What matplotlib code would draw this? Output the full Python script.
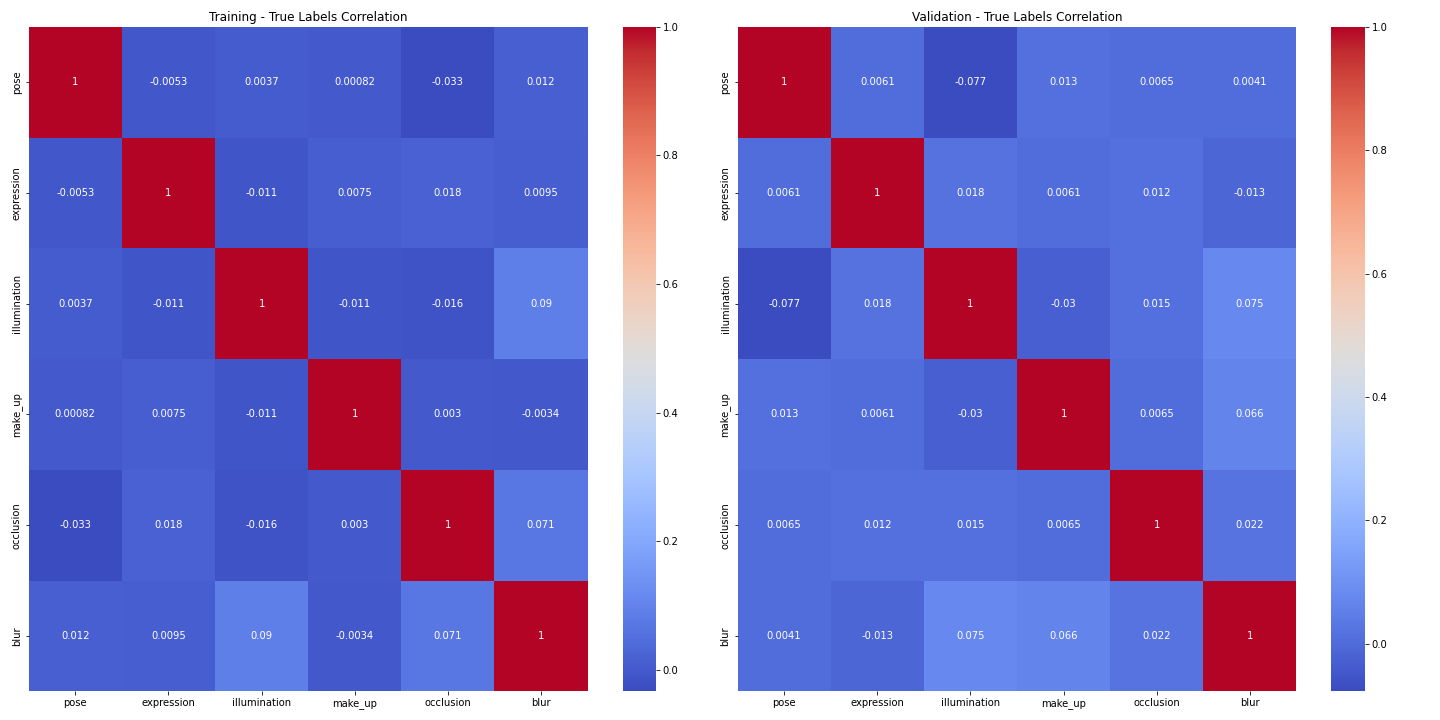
import numpy as np
import matplotlib
matplotlib.use("Agg")
import matplotlib.pyplot as plt
import seaborn as sns

labels = ["pose", "expression", "illumination", "make_up", "occlusion", "blur"]

train_corr = [
    [1, -0.0053, 0.0037, 0.00082, -0.033, 0.012],
    [-0.0053, 1, -0.011, 0.0075, 0.018, 0.0095],
    [0.0037, -0.011, 1, -0.011, -0.016, 0.09],
    [0.00082, 0.0075, -0.011, 1, 0.003, -0.0034],
    [-0.033, 0.018, -0.016, 0.003, 1, 0.071],
    [0.012, 0.0095, 0.09, -0.0034, 0.071, 1],
]

val_corr = [
    [1, 0.0061, -0.077, 0.013, 0.0065, 0.0041],
    [0.0061, 1, 0.018, 0.0061, 0.012, -0.013],
    [-0.077, 0.018, 1, -0.03, 0.015, 0.075],
    [0.013, 0.0061, -0.03, 1, 0.0065, 0.066],
    [0.0065, 0.012, 0.015, 0.0065, 1, 0.022],
    [0.0041, -0.013, 0.075, 0.066, 0.022, 1],
]

fig, axes = plt.subplots(1, 2, figsize=(20, 10), dpi=72)

sns.heatmap(np.array(train_corr), annot=True, cmap="coolwarm",
            xticklabels=labels, yticklabels=labels, ax=axes[0])
axes[0].set_title("Training - True Labels Correlation")

sns.heatmap(np.array(val_corr), annot=True, cmap="coolwarm",
            xticklabels=labels, yticklabels=labels, ax=axes[1])
axes[1].set_title("Validation - True Labels Correlation")

plt.tight_layout()

# nudge right heatmap + its colorbar a bit to the right
dx = 7 / 1440
cbar_ax = axes[1].collections[0].colorbar.ax
for a in (axes[1], cbar_ax):
    p = a.get_position()
    a.set_position([p.x0 + dx, p.y0, p.width, p.height])

plt.savefig("out.png", dpi=72)
